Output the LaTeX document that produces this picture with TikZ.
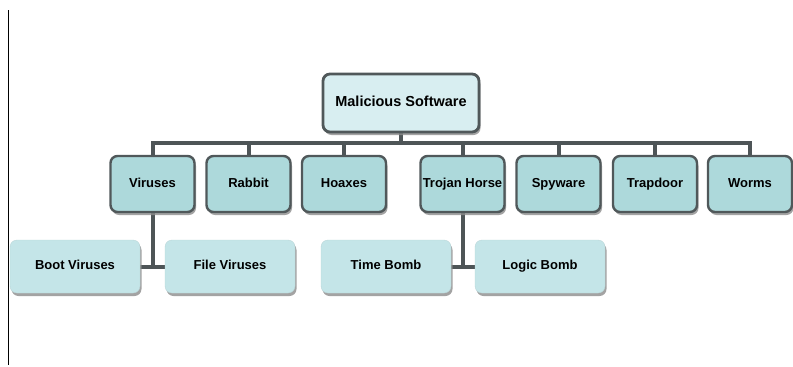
\documentclass[tikz,border=0pt]{standalone}
\usepackage{fontspec}
\setmainfont{Liberation Sans}
\usetikzlibrary{shadows,backgrounds}
\definecolor{rootfill}{HTML}{D8EEF1}
\definecolor{catfill}{HTML}{ADD9DB}
\definecolor{subfill}{HTML}{C4E5E8}
\definecolor{edge}{HTML}{50585A}
\definecolor{conncol}{HTML}{4E5557}
\tikzset{
  boxbase/.style={rounded corners=7pt, align=center, inner sep=2pt,
    text height=1.6ex, text depth=0.35ex,
    drop shadow={shadow xshift=1.5pt, shadow yshift=-3pt, fill=black!45, opacity=0.8}},
  rootbox/.style={boxbase, draw=edge, line width=2.8pt, fill=rootfill,
    minimum width=156pt, minimum height=58pt, font=\bfseries\fontsize{14.5}{16}\selectfont},
  catbox/.style={boxbase, draw=edge, line width=2.4pt, fill=catfill,
    minimum width=84pt, minimum height=56pt, font=\bfseries\fontsize{13}{15}\selectfont},
  subbox/.style={boxbase, draw=subfill!85!gray, line width=0.4pt, fill=subfill,
    minimum width=130pt, minimum height=53pt, font=\bfseries\fontsize{13}{15}\selectfont},
  conn/.style={draw=conncol, line width=4pt},
}
\begin{document}
\begin{tikzpicture}[x=1pt,y=-1pt]
  \useasboundingbox (0,0) rectangle (793,367);
  % left rule
  \draw[black, line width=1pt] (8,10) -- (8,365);

  % root
  \node[rootbox] (root) at (401,103) {Malicious Software};

  % categories
  \node[catbox] (viruses)  at (152.5,184) {Viruses};
  \node[catbox] (rabbit)   at (248.5,184) {Rabbit};
  \node[catbox] (hoaxes)   at (344,184)   {Hoaxes};
  \node[catbox] (trojan)   at (462.5,184) {Trojan Horse};
  \node[catbox] (spyware)  at (558.5,184) {Spyware};
  \node[catbox] (trapdoor) at (655,184)   {Trapdoor};
  \node[catbox] (worms)    at (750,184)   {Worms};

  % sub-categories
  \node[subbox] (boot)  at (75,266.5)  {Boot Viruses};
  \node[subbox] (file)  at (230,266.5) {File Viruses};
  \node[subbox] (time)  at (386,266.5) {Time Bomb};
  \node[subbox] (logic) at (540,266.5) {Logic Bomb};

  \coordinate (bus) at (401,143);

  \begin{scope}[on background layer]
    \draw[conn] (root.south) -- (bus);
    \draw[conn] (viruses.north) |- (bus -| worms.north) -- (worms.north);
    \foreach \n in {rabbit,hoaxes,trojan,spyware,trapdoor}
      \draw[conn] (\n.north) -- (\n.north |- bus);
    \draw[conn] (viruses.south) -- (viruses.south |- boot.east);
    \draw[conn] (boot.east) -- (file.west);
    \draw[conn] (trojan.south) -- (trojan.south |- time.east);
    \draw[conn] (time.east) -- (logic.west);
  \end{scope}
\end{tikzpicture}
\end{document}
